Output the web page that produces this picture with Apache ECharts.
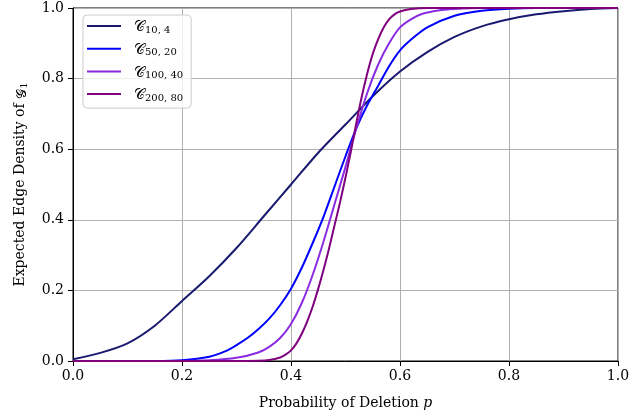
<!DOCTYPE html>
<html>
<head>
<meta charset="utf-8">
<script src="https://cdn.jsdelivr.net/npm/echarts@6/dist/echarts.min.js"></script>
<style>
  html, body { margin: 0; padding: 0; background: #fff; }
  #chart { width: 642px; height: 419px; }
</style>
</head>
<body>
<div id="chart"></div>
<script>
// curve values as [p, density]
const c10_4 = [[0, 0.005], [0.05, 0.023], [0.1, 0.05], [0.15, 0.1], [0.2, 0.17], [0.25, 0.24],
  [0.3, 0.32], [0.35, 0.41], [0.4, 0.5], [0.45, 0.59], [0.5, 0.67], [0.55, 0.75], [0.6, 0.82],
  [0.65, 0.875], [0.7, 0.918], [0.75, 0.948], [0.8, 0.968], [0.85, 0.982], [0.9, 0.991],
  [0.95, 0.997], [1, 1]];
const c50_20 = [[0, 0], [0.15, 0], [0.2, 0.002], [0.25, 0.012], [0.28, 0.028], [0.3, 0.045],
  [0.32, 0.065], [0.34, 0.09], [0.36, 0.12], [0.38, 0.158], [0.4, 0.205], [0.42, 0.265],
  [0.44, 0.335], [0.46, 0.41], [0.48, 0.495], [0.5, 0.58], [0.52, 0.66], [0.54, 0.725],
  [0.56, 0.78], [0.58, 0.835], [0.6, 0.88], [0.62, 0.91], [0.65, 0.945], [0.7, 0.978],
  [0.75, 0.992], [0.8, 0.998], [0.85, 1], [1, 1]];
const c100_40 = [[0, 0], [0.2, 0], [0.25, 0.002], [0.3, 0.009], [0.34, 0.024], [0.36, 0.04],
  [0.38, 0.065], [0.4, 0.105], [0.42, 0.165], [0.44, 0.245], [0.46, 0.34], [0.48, 0.445],
  [0.5, 0.55], [0.52, 0.66], [0.54, 0.76], [0.56, 0.84], [0.58, 0.9], [0.6, 0.945],
  [0.62, 0.968], [0.64, 0.983], [0.67, 0.993], [0.7, 0.997], [0.75, 1], [1, 1]];
const c200_80 = [[0, 0], [0.3, 0], [0.34, 0.001], [0.36, 0.003], [0.38, 0.01], [0.39, 0.018],
  [0.4, 0.03], [0.41, 0.05], [0.42, 0.078], [0.43, 0.113], [0.44, 0.155], [0.45, 0.205],
  [0.46, 0.26], [0.47, 0.32], [0.48, 0.385], [0.49, 0.45], [0.5, 0.52], [0.51, 0.595],
  [0.52, 0.675], [0.53, 0.75], [0.54, 0.815], [0.55, 0.87], [0.56, 0.912], [0.57, 0.945],
  [0.58, 0.968], [0.59, 0.982], [0.6, 0.99], [0.62, 0.997], [0.65, 1], [1, 1]];

const seriesNames = ['c10', 'c50', 'c100', 'c200'];
const subscripts = ['10, 4', '50, 20', '100, 40', '200, 80'];
const curves = [c10_4, c50_20, c100_40, c200_80];
const colors = ['#191970', '#0000ff', '#8a2be2', '#800080'];

const serif = "'DejaVu Serif', serif";
let chart = echarts.init(document.getElementById('chart'));

let axisCommon = {
  type: 'value', min: 0, max: 1, interval: 0.2,
  axisLine: { show: true, lineStyle: { color: '#000', width: 1 } },
  axisTick: { show: true, length: 5, lineStyle: { color: '#000', width: 1 } },
  splitLine: { show: true, lineStyle: { color: '#b0b0b0', width: 1 } }
};

let option = {
  animation: false,
  backgroundColor: '#fff',
  grid: { left: 73, right: 24, top: 8, bottom: 58, show: true, borderColor: '#000', borderWidth: 1 },
  xAxis: Object.assign({}, axisCommon, {
    name: 'Probability of Deletion {i|p}',
    nameLocation: 'middle', nameGap: 35,
    nameTextStyle: { fontFamily: serif, fontSize: 14, color: '#000',
      rich: { i: { fontFamily: serif, fontSize: 14, fontStyle: 'italic' } } },
    axisLabel: { fontFamily: serif, fontSize: 14, color: '#000', margin: 8,
      formatter: v => v.toFixed(1) }
  }),
  yAxis: Object.assign({}, axisCommon, {
    name: 'Expected Edge Density of {g|𝒢}{s|1}',
    nameLocation: 'middle', nameGap: 44,
    nameTextStyle: { fontFamily: serif, fontSize: 14, color: '#000',
      rich: {
        g: { fontFamily: serif, fontSize: 14, lineHeight: 18, verticalAlign: 'bottom' },
        s: { fontFamily: serif, fontSize: 10, lineHeight: 12, verticalAlign: 'bottom' }
      } },
    axisLabel: { fontFamily: serif, fontSize: 14, color: '#000', margin: 9,
      formatter: v => v.toFixed(1) }
  }),
  legend: {
    orient: 'vertical', left: 83, top: 15,
    icon: 'rect',
    itemWidth: 34, itemHeight: 2, itemGap: 7.7,
    padding: [5, 8, 5, 4],
    backgroundColor: 'rgba(255,255,255,0.8)',
    borderColor: '#cccccc', borderWidth: 1, borderRadius: 4,
    data: seriesNames,
    formatter: name => '{c|𝒞}{s|' + subscripts[seriesNames.indexOf(name)] + '}',
    textStyle: {
      rich: {
        c: { fontFamily: serif, fontSize: 15, lineHeight: 18, verticalAlign: 'bottom', padding: [0, 0, 0, 8], color: '#000' },
        s: { fontFamily: serif, fontSize: 10, lineHeight: 11, verticalAlign: 'bottom', color: '#000' }
      }
    }
  },
  series: curves.map((d, i) => ({
    name: seriesNames[i],
    type: 'line',
    data: d,
    symbol: 'none',
    smooth: 0.3,
    lineStyle: { color: colors[i], width: 2 },
    itemStyle: { color: colors[i] }
  }))
};

chart.setOption(option);
</script>
</body>
</html>
